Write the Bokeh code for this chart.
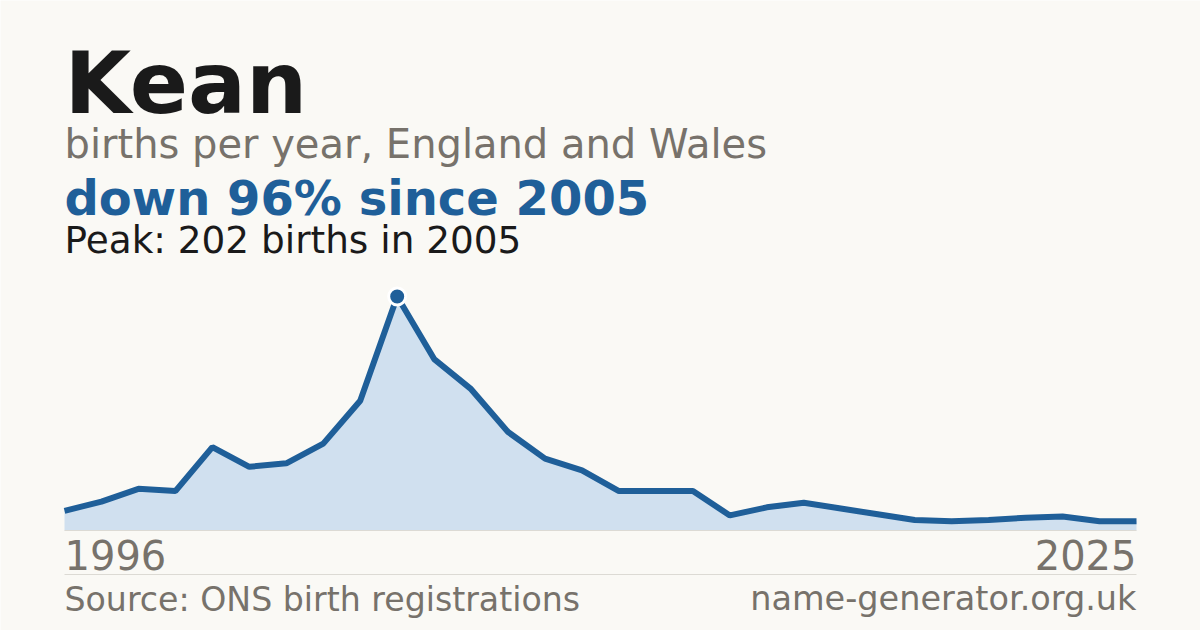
from bokeh.plotting import figure
from bokeh.models import Range1d, Label
from bokeh.embed import file_html
from bokeh.resources import INLINE

# ---- data ----
years = [1996, 1997, 1998, 1999, 2000, 2001, 2002, 2003, 2004, 2005,
         2006, 2007, 2008, 2009, 2010, 2011, 2012, 2013, 2014, 2015,
         2016, 2017, 2018, 2019, 2020, 2021, 2022, 2023, 2024, 2025]
births = [17, 25, 36, 34, 72, 55, 58, 75, 112, 202,
          148, 122, 85, 62, 52, 34, 34, 34, 13, 20,
          24, 19, 14, 9, 8, 9, 11, 12, 8, 8]

name = "Kean"
subtitle = "births per year, England and Wales"
source_text = "Source: ONS birth registrations"
site_text = "name-generator.org.uk"

peak_value = max(births)
peak_year = years[births.index(peak_value)]
last_value = births[-1]
change_pct = round((peak_value - last_value) / peak_value * 100)
headline = f"down {change_pct}% since {peak_year}"
peak_text = f"Peak: {peak_value} births in {peak_year}"

# ---- layout (pixels) ----
W, H = 1200, 630
LEFT, RIGHT = 64, 1136        # chart left/right edge
BASE, TOP = 530, 296          # y pixel of zero and of the peak

# ---- style ----
BG = "#faf9f5"
BLUE = "#1f5f99"
FILL = "#d0e0ef"
DARK = "#1a1a1a"
GREY = "#77726b"
RULE = "#dcdad4"
FONT = "DejaVu Sans"
MID = 0.36   # offset from text middle to alphabetic baseline, in em

ppx = (RIGHT - LEFT) / (years[-1] - years[0])
ppy = (BASE - TOP) / peak_value
x0 = years[0] - LEFT / ppx
y0 = -(H - BASE) / ppy

p = figure(width=W, height=H, output_backend="svg", toolbar_location=None,
           x_axis_location=None, y_axis_location=None,
           x_range=Range1d(x0, x0 + W / ppx),
           y_range=Range1d(y0, y0 + H / ppy),
           min_border=0)
p.background_fill_color = BG
p.border_fill_color = BG
p.outline_line_color = None
p.grid.visible = False

def data_y(img_y):
    return y0 + (H - img_y) / ppy

p.varea(x=years, y1=0, y2=births, fill_color=FILL)
p.segment(x0=[years[0]], x1=[years[-1]], y0=[0], y1=[0], line_color=RULE, line_width=1)
p.line(years, births, line_color=BLUE, line_width=6)
p.scatter([peak_year], [peak_value], size=17, fill_color=BLUE,
          line_color="white", line_width=3)

# separator under the year labels
sep = data_y(574)
p.segment(x0=[years[0]], x1=[years[-1]], y0=[sep], y1=[sep], line_color=RULE, line_width=1)

def lab(text, x, base_y, size, color, bold=False, align="left", x_units="screen"):
    mid_y = base_y - MID * size
    p.add_layout(Label(x=x, y=H - mid_y, x_units=x_units, y_units="screen", text=text,
                       text_font=FONT, text_font_size=f"{size}px",
                       text_font_style="bold" if bold else "normal",
                       text_color=color, text_align=align,
                       text_baseline="middle"))

lab(name, LEFT, 113, 86, DARK, bold=True)
lab(subtitle, LEFT, 157.5, 40, GREY)
lab(headline, LEFT, 215, 48, BLUE, bold=True)
lab(peak_text, LEFT, 253, 37.4, DARK)

lab(str(years[0]), years[0], 569.3, 40, GREY, x_units="data")
lab(str(years[-1]), years[-1], 569.3, 40, GREY, align="right", x_units="data")

lab(source_text, LEFT, 610.5, 33.2, GREY)
lab(site_text, RIGHT, 610.5, 33.5, GREY, align="right")

open("out.html", "w").write(file_html(p, INLINE))
